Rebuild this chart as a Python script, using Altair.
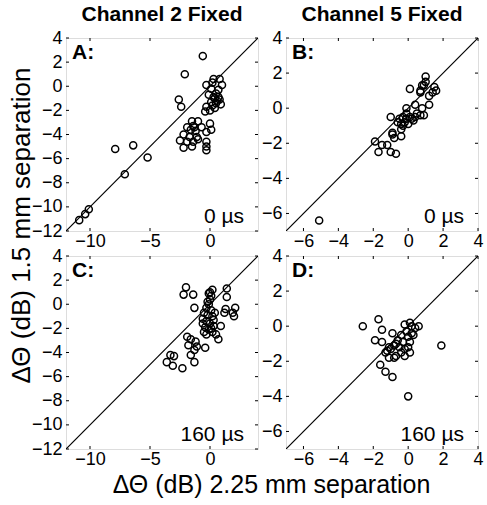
import altair as alt
import pandas as pd

# ---------------- data ----------------
a_x = [-0.6, -2.1, -2.6, -2.4, -7.9, -6.4, -5.2, -7.1, -10.1, -10.4, -10.9,
       -0.3, 0.3, 0.8, 1.0, 0.7, -0.1, 0.1, 0.5, 0.8, -0.3, 0.0, 0.4, -0.4, 0.7,
       0.1, 0.3, 0.5, 0.2, 0.6, 0.4, 0.9, 0.2,
       -1.5, -1.0, -1.9, -1.3, -0.7, 0.0, 0.1, -0.3, -2.2, -1.7, -1.1, -2.5,
       -1.9, -1.4, -2.2, -1.5, -1.0, -0.3, -0.3, -0.3, -1.6, -1.2, -1.4]
a_y = [2.5, 1.0, -1.1, -1.7, -5.2, -4.9, -5.9, -7.3, -10.2, -10.6, -11.1,
       0.1, 0.6, 0.6, 0.1, -0.3, -0.7, -1.3, -1.4, -1.1, -1.7, -2.0, -1.8, -2.1, -0.9,
       -0.2, -0.9, -0.6, -1.6, -1.2, -1.0, -1.5, 0.3,
       -2.9, -2.9, -3.4, -3.4, -3.4, -3.1, -3.6, -3.8, -4.0, -4.2, -4.2, -4.5,
       -4.6, -4.6, -5.1, -5.0, -4.4, -4.6, -5.0, -5.3, -3.6, -3.7, -3.3]

b_x = [1.0, 1.0, 0.9, 1.5, 1.6, 0.1, 0.7, 1.2, 1.2, 0.8, 0.4, -0.1, 0.7, 0.9,
       1.4, 0.8, 0.7,
       -0.5, -0.3, -0.1, 0.1, 0.3, -0.4, -0.2, 0.0, 0.2, -0.6, -0.3, 0.4, -0.1, 0.5,
       -1.0, -0.9, -0.4, -1.5, -1.2, -1.9, -1.7, -1.0, -0.7, -0.9, -0.8, -0.4,
       -5.1]
b_y = [1.8, 1.5, 1.3, 1.2, 1.0, 1.1, 0.9, 0.7, 0.2, 0.0, 0.2, 0.0, -0.4, -0.4,
       0.9, 1.3, 1.0,
       -0.6, -0.5, -0.6, -0.5, -0.7, -0.9, -0.8, -0.9, -0.6, -0.8, -1.0, -0.5, -0.3, -0.3,
       -0.5, -1.4, -1.2, -2.1, -2.1, -1.9, -2.5, -2.5, -2.6, -1.5, -1.7, -1.6,
       -6.4]

c_x = [-2.0, -2.2, -1.4, -1.3, 0.2, -0.1, 1.4, 1.4, 1.3, 1.2, 1.9, 2.1, 2.0,
       0.9, 0.5, 0.7, -1.9, -1.6, -1.2, -1.8, -1.1, -0.4, -1.3, -1.6, -1.3,
       -3.3, -3.0, -3.6, -3.1, -2.3, -0.5, 0.1,
       0.0, 0.1, 0.0, -0.1, -0.3, 0.1, -0.5, -0.2, 0.2, -0.6, -0.3, 0.0, 0.3,
       -0.4, -0.1, 0.3, -0.6, 0.4, -0.2, 0.2, -0.3]
c_y = [1.4, 0.8, 0.8, -0.3, 1.2, 0.9, 1.3, 0.6, -0.4, -0.7, -0.7, -0.3, -1.0,
       -1.8, -2.5, -2.9, -2.7, -2.9, -3.1, -3.4, -3.5, -3.6, -3.8, -4.2, -4.8,
       -4.2, -4.3, -4.8, -5.1, -5.3, -2.3, -2.0,
       1.0, 0.7, 0.4, 0.0, -0.3, -0.5, -0.7, -0.9, -1.0, -1.2, -1.4, -1.6, -1.3,
       -1.9, -2.1, -1.8, -1.6, -0.7, 0.2, -2.3, -2.5]

d_x = [-2.6, -1.7, -1.5, -0.9, -1.9, -1.5, 1.9, 0.6, 0.1, -0.2, -0.8, -1.6,
       -1.3, -0.9, 0.0, -1.2, -1.1, -0.7,
       -0.2, 0.2, 0.4, -0.1, 0.2, -0.4, 0.0, -0.6, -0.3, 0.1, -0.8, -0.5, -0.2,
       0.0, -1.0, -1.3, -0.4, 0.3, -0.7, 0.1, -1.1]
d_y = [0.0, 0.4, -0.2, -0.4, -0.8, -0.9, -1.1, 0.0, 0.2, -1.7, -1.8, -2.2,
       -2.6, -2.9, -4.0, -1.4, -1.8, -1.7,
       0.1, 0.0, -0.1, -0.3, -0.4, -0.5, -0.6, -0.8, -0.9, -0.9, -1.1, -1.2, -1.3,
       -1.2, -1.3, -1.5, -1.5, -0.5, -1.0, -1.5, -1.2]

left_domain = [-12, 4]
right_domain = [-7, 4]
left_xticks = [-10, -5, 0]
left_yticks = [4, 2, 0, -2, -4, -6, -8, -10, -12]
right_xticks = [-6, -4, -2, 0, 2, 4]
right_yticks = [4, 2, 0, -2, -4, -6]

W, H = 192, 193
FONT = "Liberation Sans"


def panel(xs, ys, dom, xticks, yticks, letter, delay, title=None,
          ytitle=None, xtitle=None):
    df = pd.DataFrame({"x": xs, "y": ys})
    sx = alt.Scale(domain=dom, nice=False, zero=False)
    sy = alt.Scale(domain=dom, nice=False, zero=False)

    xaxis_kw = dict(values=xticks, domain=False, ticks=False, grid=False,
                    labelFontSize=18, labelPadding=1, labelColor="black",
                    labelFlush=False, labelOverlap=False, labelSeparation=0,
                    labelBound=False)
    yaxis_kw = dict(values=yticks, domain=False, ticks=False, grid=False,
                    labelFontSize=18, labelPadding=4, labelColor="black",
                    labelFlush=False, labelOverlap=False, labelSeparation=0,
                    labelBound=False)
    if xtitle:
        xaxis_kw.update(title=xtitle, titleFontSize=25, titleFontWeight="normal",
                        titleX=205, titleY=43, titleAlign="center",
                        titleBaseline="alphabetic", titleColor="black")
    else:
        xaxis_kw.update(title=None)
    if ytitle:
        yaxis_kw.update(title=ytitle, titleFontSize=26, titleFontWeight="normal",
                        titleX=-45, titleY=187, titleAlign="center",
                        titleBaseline="middle", titleAngle=270,
                        titleColor="black")
    else:
        yaxis_kw.update(title=None)

    X = lambda: alt.X("x:Q", scale=sx, axis=alt.Axis(**xaxis_kw))
    Y = lambda: alt.Y("y:Q", scale=sy, axis=alt.Axis(**yaxis_kw))

    pts = alt.Chart(df).mark_point(
        shape="circle", filled=False, color="black", size=50, strokeWidth=1.5,
        opacity=1
    ).encode(x=X(), y=Y())

    diag = alt.Chart(pd.DataFrame({"x": dom, "y": dom})).mark_line(
        color="black", strokeWidth=1.2, clip=True
    ).encode(x=X(), y=Y())

    ty = pd.DataFrame({"y": yticks})
    tx = pd.DataFrame({"x": xticks})
    tick_l = alt.Chart(ty).mark_rule(color="black", strokeWidth=1).encode(
        y=Y(), x=alt.value(0), x2=alt.value(3))
    tick_r = alt.Chart(ty).mark_rule(color="black", strokeWidth=1).encode(
        y=Y(), x=alt.value(W), x2=alt.value(W - 3))
    tick_b = alt.Chart(tx).mark_rule(color="black", strokeWidth=1).encode(
        x=X(), y=alt.value(H), y2=alt.value(H - 3))
    tick_t = alt.Chart(tx).mark_rule(color="black", strokeWidth=1).encode(
        x=X(), y=alt.value(0), y2=alt.value(3))

    lab = alt.Chart(pd.DataFrame({"t": [letter]})).mark_text(
        align="left", baseline="alphabetic", fontSize=21, fontWeight="bold",
        color="black", font=FONT
    ).encode(text="t:N", x=alt.value(6), y=alt.value(21))

    dl = alt.Chart(pd.DataFrame({"t": [delay]})).mark_text(
        align="right", baseline="alphabetic", fontSize=21, color="black",
        font=FONT
    ).encode(text="t:N", x=alt.value(W - 14), y=alt.value(H - 8))

    props = dict(width=W, height=H)
    if title:
        props["title"] = alt.TitleParams(title, fontSize=21, fontWeight="bold",
                                         anchor="middle", color="black",
                                         font=FONT, offset=4)
    return alt.layer(pts, diag, tick_l, tick_r, tick_b, tick_t, lab, dl).properties(**props)


pA = panel(a_x, a_y, left_domain, left_xticks, left_yticks, "A:", "0 µs",
           title="Channel 2 Fixed", ytitle="ΔΘ (dB) 1.5 mm separation")
pB = panel(b_x, b_y, right_domain, right_xticks, right_yticks,
           "B:", "0 µs", title="Channel 5 Fixed")
pC = panel(c_x, c_y, left_domain, left_xticks, left_yticks, "C:", "160 µs",
           xtitle="ΔΘ (dB) 2.25 mm separation")
pD = panel(d_x, d_y, right_domain, right_xticks, right_yticks,
           "D:", "160 µs")

chart = alt.concat(
    pA, pB, pC, pD, columns=2,
    spacing={"row": 25, "column": 28}, bounds="flush"
).properties(
    padding={"left": 7, "top": 3, "right": 2, "bottom": 5},
    background="white",
).configure_view(
    stroke="black", strokeWidth=1.3
).configure(
    font=FONT
).configure_axis(
    labelFont=FONT, titleFont=FONT, labelOverlap=False
)

chart.save("out.html", embed_options={"renderer": "svg", "actions": False})
